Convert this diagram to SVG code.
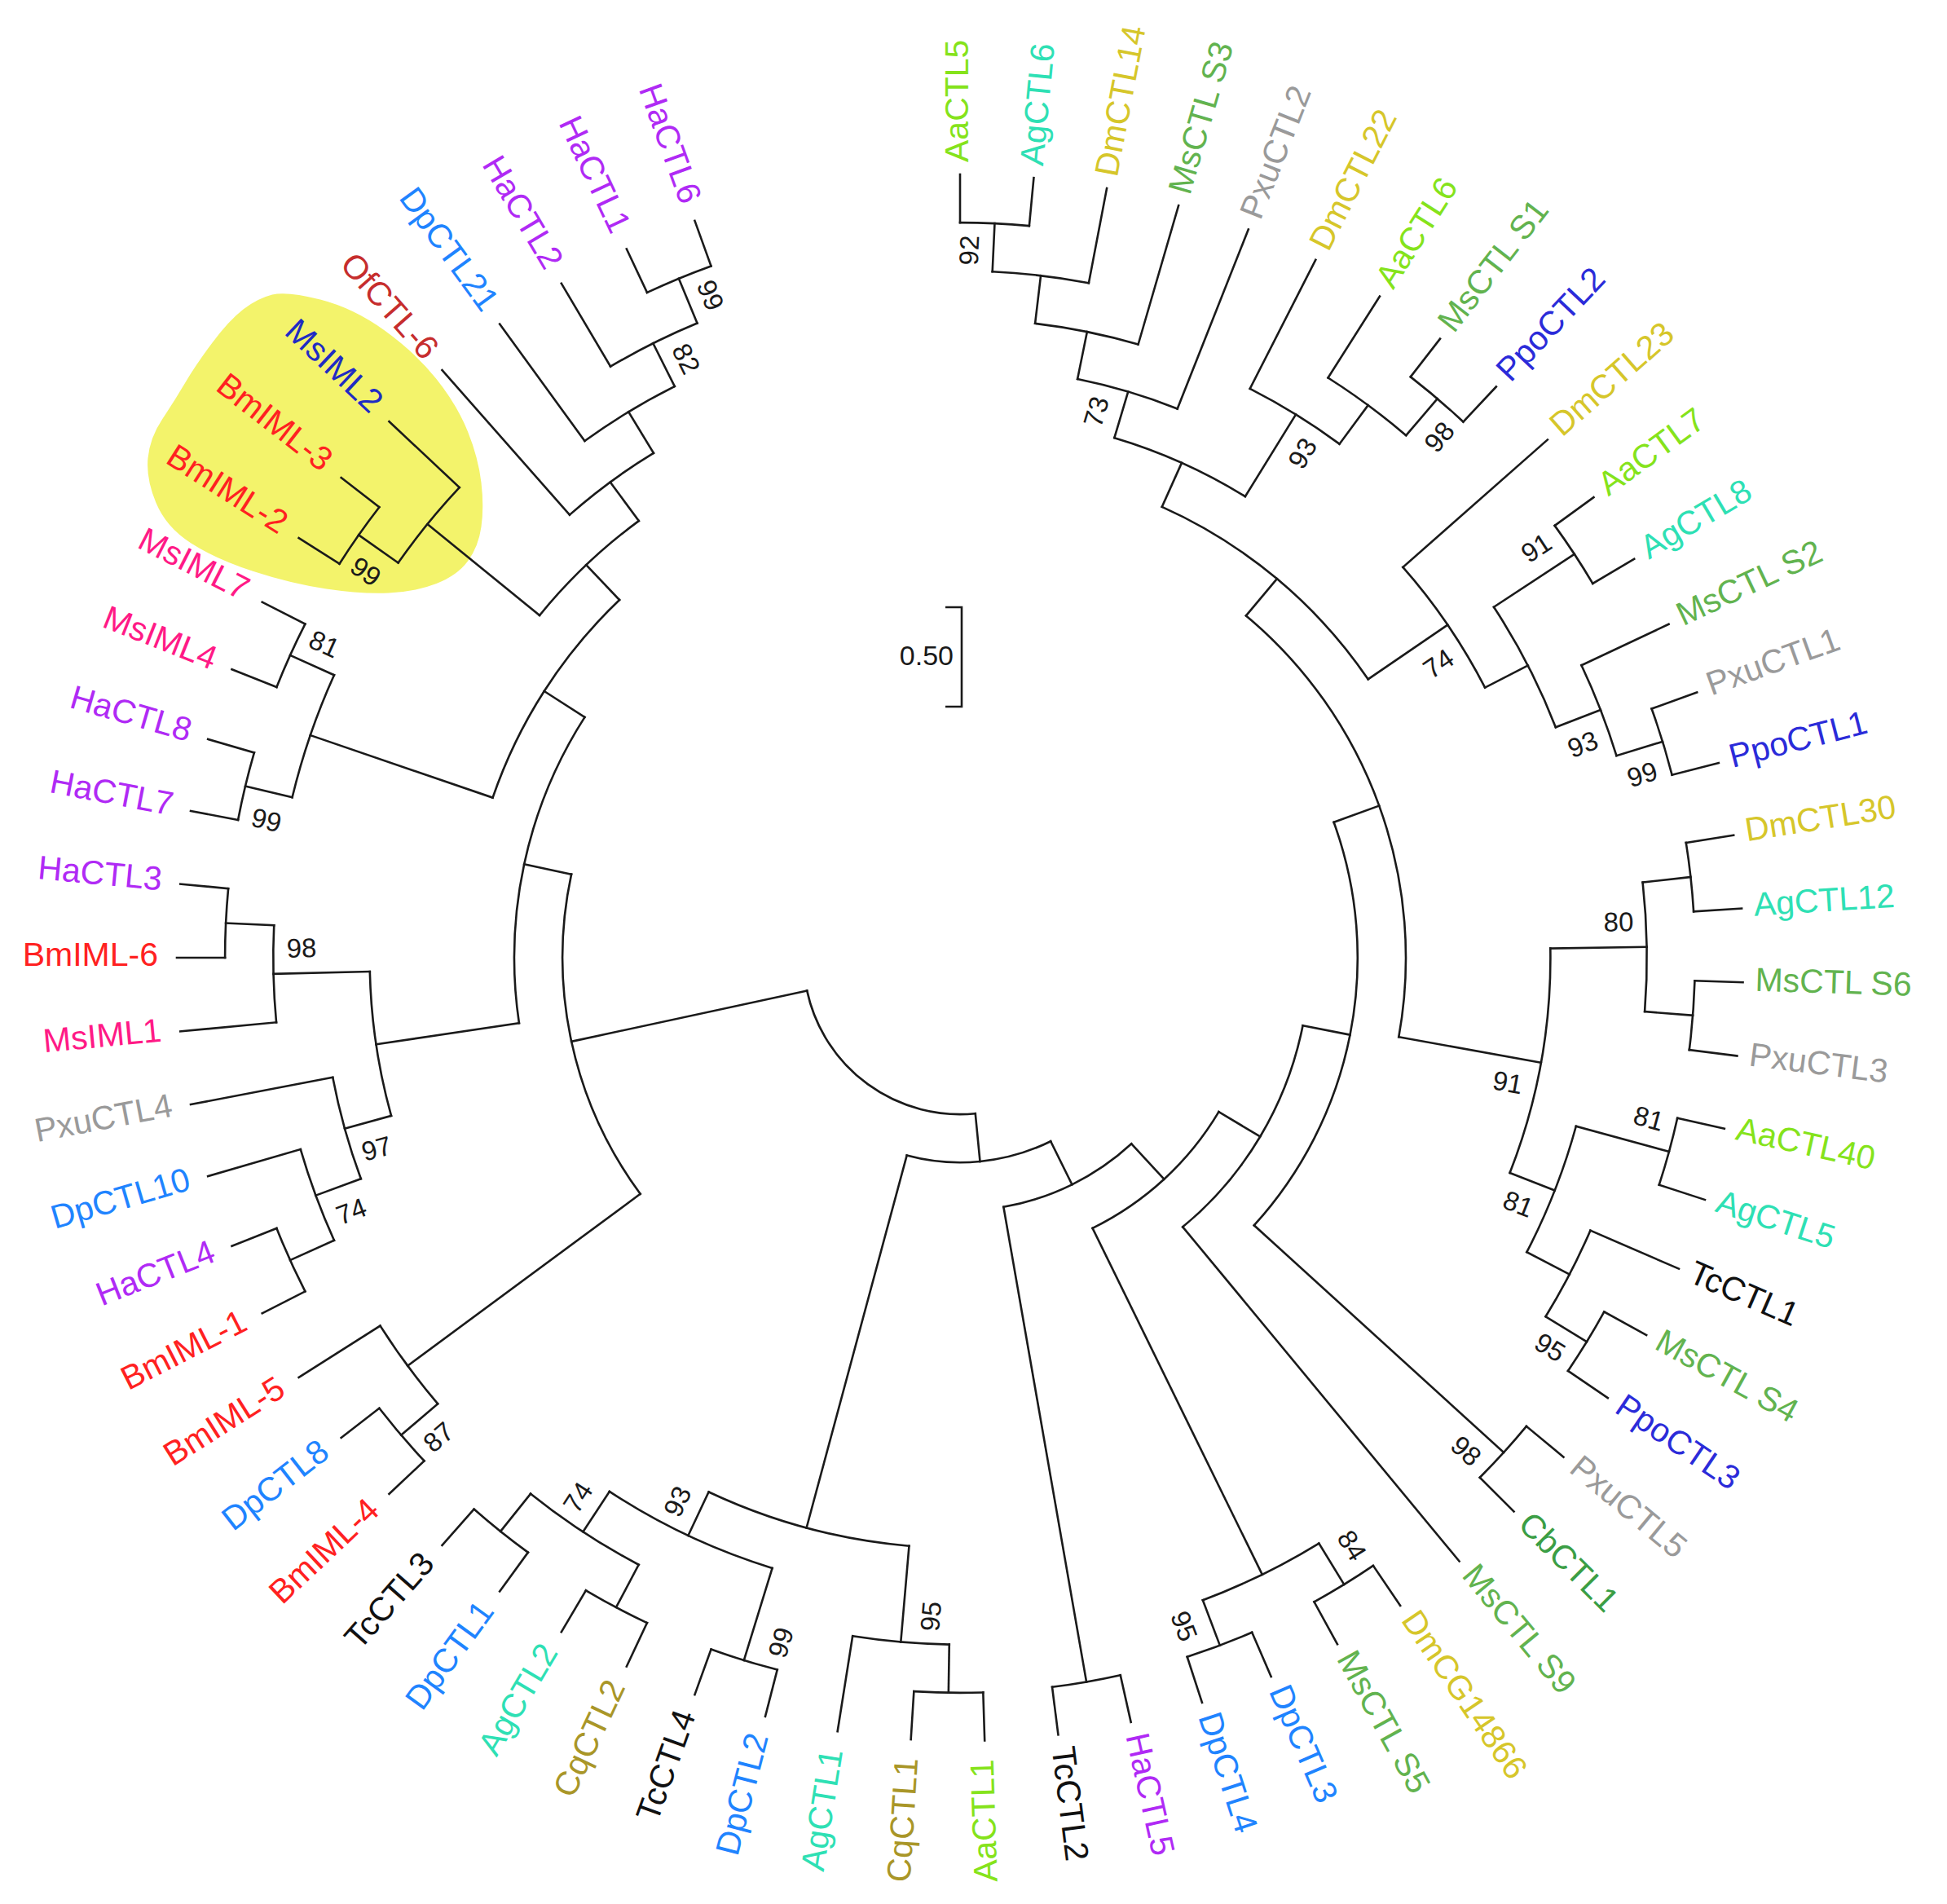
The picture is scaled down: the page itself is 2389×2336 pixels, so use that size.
<svg xmlns="http://www.w3.org/2000/svg" width="2389" height="2336" viewBox="0 0 2389 2336">
<style>
.br{fill:none;stroke:#1a1a1a;stroke-width:2.6;stroke-linecap:square}
.lb{font-family:"Liberation Sans",Arial,sans-serif;font-size:41px}
.lf{text-anchor:end}
.bs{font-family:"Liberation Sans",Arial,sans-serif;font-size:33px;fill:#1a1a1a;text-anchor:middle}
.aa{fill:#85e31b}.ag{fill:#2ee0b4}.dm{fill:#d6c62a}.ms{fill:#62b34f}.px{fill:#9a9a9a}.pp{fill:#2b2bd9}
.dp{fill:#1f84ff}.ha{fill:#b02af5}.bm{fill:#ff2121}.mi{fill:#ff1a86}.nv{fill:#1f2bc4}.of{fill:#c62d2d}
.cq{fill:#a99628}.cb{fill:#3b9e45}.tc{fill:#111}
</style>
<rect width="2389" height="2336" fill="#fff"/>
<path id="highlight" fill="#f3f36b" d="M334 361.5 Q352 357 393 367.5 Q434 378 472 405.5 Q510 433 535.5 465 Q561 497 574 529.5 Q587 562 590.5 592 Q594 622 590.5 646.5 Q587 671 574 688.5 Q561 706 535.5 716 Q510 726 477 727.5 Q444 729 400.5 722.5 Q357 716 311 701 Q265 686 234.5 666.5 Q204 647 191.5 617 Q179 587 181.5 562 Q184 537 199 514.5 Q214 492 227 470 Q240 448 260.5 420.5 Q281 393 298.5 379.5 Q316 366 334 361.5 Z"/>
<g id="connectors" class="br" transform="translate(1178 1175)">
<!-- arcs h1 -->
<circle r="901.9" stroke-dasharray="85 9999" transform="rotate(-90)"/>
<circle r="901.9" stroke-dasharray="85 9999" transform="rotate(-52.2)"/>
<circle r="901.9" stroke-dasharray="85 9999" transform="rotate(-36)"/>
<circle r="901.9" stroke-dasharray="85 9999" transform="rotate(-19.8)"/>
<circle r="901.9" stroke-dasharray="85 9999" transform="rotate(-9)"/>
<circle r="901.9" stroke-dasharray="85 9999" transform="rotate(1.8)"/>
<circle r="901.9" stroke-dasharray="85 9999" transform="rotate(12.6)"/>
<circle r="901.9" stroke-dasharray="85 9999" transform="rotate(28.8)"/>
<circle r="901.9" stroke-dasharray="85 9999" transform="rotate(39.6)"/>
<circle r="901.9" stroke-dasharray="85 9999" transform="rotate(55.8)"/>
<circle r="901.9" stroke-dasharray="85 9999" transform="rotate(66.6)"/>
<circle r="901.9" stroke-dasharray="85 9999" transform="rotate(77.4)"/>
<circle r="901.9" stroke-dasharray="85 9999" transform="rotate(88.2)"/>
<circle r="901.9" stroke-dasharray="85 9999" transform="rotate(104.4)"/>
<circle r="901.9" stroke-dasharray="85 9999" transform="rotate(115.2)"/>
<circle r="901.9" stroke-dasharray="85 9999" transform="rotate(126)"/>
<circle r="901.9" stroke-dasharray="85 9999" transform="rotate(136.8)"/>
<circle r="901.9" stroke-dasharray="85 9999" transform="rotate(153)"/>
<circle r="901.9" stroke-dasharray="85 9999" transform="rotate(180)"/>
<circle r="901.9" stroke-dasharray="85 9999" transform="rotate(190.8)"/>
<circle r="901.9" stroke-dasharray="85 9999" transform="rotate(201.6)"/>
<circle r="901.9" stroke-dasharray="85 9999" transform="rotate(212.4)"/>
<circle r="901.9" stroke-dasharray="85 9999" transform="rotate(244.8)"/>
<!-- arcs h2 -->
<circle r="842.7" stroke-dasharray="119.1 9999" transform="rotate(-87.3)"/>
<circle r="842.7" stroke-dasharray="119.1 9999" transform="rotate(-57.6)"/>
<circle r="842.7" stroke-dasharray="119.1 9999" transform="rotate(-25.2)"/>
<circle r="842.7" stroke-dasharray="158.9 9999" transform="rotate(-6.3)"/>
<circle r="842.7" stroke-dasharray="119.1 9999" transform="rotate(23.4)"/>
<circle r="842.7" stroke-dasharray="158.9 9999" transform="rotate(58.5)"/>
<circle r="842.7" stroke-dasharray="119.1 9999" transform="rotate(90.9)"/>
<circle r="842.7" stroke-dasharray="158.9 9999" transform="rotate(117.9)"/>
<circle r="842.7" stroke-dasharray="119.1 9999" transform="rotate(139.5)"/>
<circle r="842.7" stroke-dasharray="119.1 9999" transform="rotate(155.7)"/>
<circle r="842.7" stroke-dasharray="119.1 9999" transform="rotate(174.6)"/>
<circle r="842.7" stroke-dasharray="158.9 9999" transform="rotate(193.5)"/>
<circle r="842.7" stroke-dasharray="119.1 9999" transform="rotate(215.1)"/>
<circle r="842.7" stroke-dasharray="119.1 9999" transform="rotate(239.4)"/>
<!-- arcs h3 -->
<circle r="783.6" stroke-dasharray="129.2 9999" transform="rotate(-83.25)"/>
<circle r="783.6" stroke-dasharray="129.2 9999" transform="rotate(-63)"/>
<circle r="783.6" stroke-dasharray="166.2 9999" transform="rotate(-33.3)"/>
<circle r="783.6" stroke-dasharray="166.2 9999" transform="rotate(15.3)"/>
<circle r="783.6" stroke-dasharray="221.6 9999" transform="rotate(107.1)"/>
<circle r="783.6" stroke-dasharray="129.2 9999" transform="rotate(159.75)"/>
<circle r="783.6" stroke-dasharray="129.2 9999" transform="rotate(234)"/>
<!-- arcs h4 -->
<circle r="724.4" stroke-dasharray="128 9999" transform="rotate(-78.525)"/>
<circle r="724.4" stroke-dasharray="179.2 9999" transform="rotate(-41.4)"/>
<circle r="724.4" stroke-dasharray="281.6 9999" transform="rotate(-0.9)"/>
<circle r="724.4" stroke-dasharray="256 9999" transform="rotate(94.95)"/>
<circle r="724.4" stroke-dasharray="179.2 9999" transform="rotate(164.475)"/>
<circle r="724.4" stroke-dasharray="128 9999" transform="rotate(228.6)"/>
<!-- arcs h5..h13 -->
<circle r="665.3" stroke-dasharray="176.3 9999" transform="rotate(-73.4625)"/>
<circle r="665.3" stroke-dasharray="168.5 9999" transform="rotate(219.15)"/>
<circle r="606.1" stroke-dasharray="333.8 9999" transform="rotate(-65.869)"/>
<circle r="606.1" stroke-dasharray="291 9999" transform="rotate(198.9)"/>
<circle r="547" stroke-dasharray="575.9 9999" transform="rotate(-50.09)"/>
<circle r="547" stroke-dasharray="392.3 9999" transform="rotate(171.5625)"/>
<circle r="487.8" stroke-dasharray="529.8 9999" transform="rotate(-19.926)"/>
<circle r="487.8" stroke-dasharray="413.4 9999" transform="rotate(143.55)"/>
<circle r="428.7" stroke-dasharray="293.4 9999" transform="rotate(11.187)"/>
<circle r="369.5" stroke-dasharray="213.5 9999" transform="rotate(30.79)"/>
<circle r="310.4" stroke-dasharray="177.4 9999" transform="rotate(47.35)"/>
<circle r="251.2" stroke-dasharray="181.3 9999" transform="rotate(63.72)"/>
<circle r="192.1" stroke-dasharray="279.7 9999" transform="rotate(84.4)"/>
<!-- leaf branches -->
<path d="M901.9 0H961" transform="rotate(-90)"/>
<path d="M901.9 0H961" transform="rotate(-84.6)"/>
<path d="M842.7 0H961" transform="rotate(-79.2)"/>
<path d="M783.6 0H961" transform="rotate(-73.8)"/>
<path d="M724.4 0H961" transform="rotate(-68.4)"/>
<path d="M783.6 0H961" transform="rotate(-63)"/>
<path d="M842.7 0H961" transform="rotate(-57.6)"/>
<path d="M901.9 0H961" transform="rotate(-52.2)"/>
<path d="M901.9 0H961" transform="rotate(-46.8)"/>
<path d="M724.4 0H961" transform="rotate(-41.4)"/>
<path d="M901.9 0H961" transform="rotate(-36)"/>
<path d="M901.9 0H961" transform="rotate(-30.6)"/>
<path d="M842.7 0H961" transform="rotate(-25.2)"/>
<path d="M901.9 0H961" transform="rotate(-19.8)"/>
<path d="M901.9 0H961" transform="rotate(-14.4)"/>
<path d="M901.9 0H961" transform="rotate(-9)"/>
<path d="M901.9 0H961" transform="rotate(-3.6)"/>
<path d="M901.9 0H961" transform="rotate(1.8)"/>
<path d="M901.9 0H961" transform="rotate(7.2)"/>
<path d="M901.9 0H961" transform="rotate(12.6)"/>
<path d="M901.9 0H961" transform="rotate(18)"/>
<path d="M842.7 0H961" transform="rotate(23.4)"/>
<path d="M901.9 0H961" transform="rotate(28.8)"/>
<path d="M901.9 0H961" transform="rotate(34.2)"/>
<path d="M901.9 0H961" transform="rotate(39.6)"/>
<path d="M901.9 0H961" transform="rotate(45)"/>
<path d="M428.7 0H961" transform="rotate(50.4)"/>
<path d="M901.9 0H961" transform="rotate(55.8)"/>
<path d="M901.9 0H961" transform="rotate(61.2)"/>
<path d="M901.9 0H961" transform="rotate(66.6)"/>
<path d="M901.9 0H961" transform="rotate(72)"/>
<path d="M901.9 0H961" transform="rotate(77.4)"/>
<path d="M901.9 0H961" transform="rotate(82.8)"/>
<path d="M901.9 0H961" transform="rotate(88.2)"/>
<path d="M901.9 0H961" transform="rotate(93.6)"/>
<path d="M842.7 0H961" transform="rotate(99)"/>
<path d="M901.9 0H961" transform="rotate(104.4)"/>
<path d="M901.9 0H961" transform="rotate(109.8)"/>
<path d="M901.9 0H961" transform="rotate(115.2)"/>
<path d="M901.9 0H961" transform="rotate(120.6)"/>
<path d="M901.9 0H961" transform="rotate(126)"/>
<path d="M901.9 0H961" transform="rotate(131.4)"/>
<path d="M901.9 0H961" transform="rotate(136.8)"/>
<path d="M901.9 0H961" transform="rotate(142.2)"/>
<path d="M842.7 0H961" transform="rotate(147.6)"/>
<path d="M901.9 0H961" transform="rotate(153)"/>
<path d="M901.9 0H961" transform="rotate(158.4)"/>
<path d="M842.7 0H961" transform="rotate(163.8)"/>
<path d="M783.6 0H961" transform="rotate(169.2)"/>
<path d="M842.7 0H961" transform="rotate(174.6)"/>
<path d="M901.9 0H961" transform="rotate(180)"/>
<path d="M901.9 0H961" transform="rotate(185.4)"/>
<path d="M901.9 0H961" transform="rotate(190.8)"/>
<path d="M901.9 0H961" transform="rotate(196.2)"/>
<path d="M901.9 0H961" transform="rotate(201.6)"/>
<path d="M901.9 0H961" transform="rotate(207)"/>
<path d="M901.9 0H961" transform="rotate(212.4)"/>
<path d="M901.9 0H961" transform="rotate(217.8)"/>
<path d="M842.7 0H961" transform="rotate(223.2)"/>
<path d="M724.4 0H961" transform="rotate(228.6)"/>
<path d="M783.6 0H961" transform="rotate(234)"/>
<path d="M842.7 0H961" transform="rotate(239.4)"/>
<path d="M901.9 0H961" transform="rotate(244.8)"/>
<path d="M901.9 0H961" transform="rotate(250.2)"/>
<!-- internal stems -->
<path d="M842.7 0H901.9" transform="rotate(-87.3)"/>
<path d="M783.6 0H842.7" transform="rotate(-83.25)"/>
<path d="M724.4 0H783.6" transform="rotate(-78.525)"/>
<path d="M665.3 0H724.4" transform="rotate(-73.4625)"/>
<path d="M842.7 0H901.9" transform="rotate(-49.5)"/>
<path d="M783.6 0H842.7" transform="rotate(-53.55)"/>
<path d="M665.3 0H783.6" transform="rotate(-58.275)"/>
<path d="M606.1 0H665.3" transform="rotate(-65.869)"/>
<path d="M783.6 0H901.9" transform="rotate(-33.3)"/>
<path d="M842.7 0H901.9" transform="rotate(-17.1)"/>
<path d="M783.6 0H842.7" transform="rotate(-21.15)"/>
<path d="M724.4 0H783.6" transform="rotate(-27.225)"/>
<path d="M606.1 0H724.4" transform="rotate(-34.3125)"/>
<path d="M547 0H606.1" transform="rotate(-50.09)"/>
<path d="M842.7 0H901.9" transform="rotate(-6.3)"/>
<path d="M842.7 0H901.9" transform="rotate(4.5)"/>
<path d="M724.4 0H842.7" transform="rotate(-0.9)"/>
<path d="M783.6 0H901.9" transform="rotate(15.3)"/>
<path d="M842.7 0H901.9" transform="rotate(31.5)"/>
<path d="M783.6 0H842.7" transform="rotate(27.45)"/>
<path d="M724.4 0H783.6" transform="rotate(21.375)"/>
<path d="M547 0H724.4" transform="rotate(10.2375)"/>
<path d="M487.8 0H547" transform="rotate(-19.926)"/>
<path d="M487.8 0H901.9" transform="rotate(42.3)"/>
<path d="M428.7 0H487.8" transform="rotate(11.187)"/>
<path d="M369.5 0H428.7" transform="rotate(30.79)"/>
<path d="M842.7 0H901.9" transform="rotate(58.5)"/>
<path d="M842.7 0H901.9" transform="rotate(69.3)"/>
<path d="M369.5 0H842.7" transform="rotate(63.9)"/>
<path d="M310.4 0H369.5" transform="rotate(47.35)"/>
<path d="M310.4 0H901.9" transform="rotate(80.1)"/>
<path d="M251.2 0H310.4" transform="rotate(63.72)"/>
<path d="M842.7 0H901.9" transform="rotate(90.9)"/>
<path d="M724.4 0H842.7" transform="rotate(94.95)"/>
<path d="M783.6 0H901.9" transform="rotate(107.1)"/>
<path d="M842.7 0H901.9" transform="rotate(117.9)"/>
<path d="M842.7 0H901.9" transform="rotate(128.7)"/>
<path d="M783.6 0H842.7" transform="rotate(123.3)"/>
<path d="M724.4 0H783.6" transform="rotate(115.2)"/>
<path d="M251.2 0H724.4" transform="rotate(105.075)"/>
<path d="M192.1 0H251.2" transform="rotate(84.4)"/>
<path d="M842.7 0H901.9" transform="rotate(139.5)"/>
<path d="M487.8 0H842.7" transform="rotate(143.55)"/>
<path d="M842.7 0H901.9" transform="rotate(155.7)"/>
<path d="M783.6 0H842.7" transform="rotate(159.75)"/>
<path d="M724.4 0H783.6" transform="rotate(164.475)"/>
<path d="M842.7 0H901.9" transform="rotate(182.7)"/>
<path d="M724.4 0H842.7" transform="rotate(178.65)"/>
<path d="M547 0H724.4" transform="rotate(171.5625)"/>
<path d="M842.7 0H901.9" transform="rotate(193.5)"/>
<path d="M842.7 0H901.9" transform="rotate(204.3)"/>
<path d="M606.1 0H842.7" transform="rotate(198.9)"/>
<path d="M842.7 0H901.9" transform="rotate(215.1)"/>
<path d="M665.3 0H842.7" transform="rotate(219.15)"/>
<path d="M842.7 0H901.9" transform="rotate(247.5)"/>
<path d="M783.6 0H842.7" transform="rotate(243.45)"/>
<path d="M724.4 0H783.6" transform="rotate(238.725)"/>
<path d="M665.3 0H724.4" transform="rotate(233.6625)"/>
<path d="M606.1 0H665.3" transform="rotate(226.406)"/>
<path d="M547 0H606.1" transform="rotate(212.653)"/>
<path d="M487.8 0H547" transform="rotate(192.108)"/>
<path d="M192.1 0H487.8" transform="rotate(167.829)"/>
</g>
<g id="leaves" class="lb" transform="translate(1178 1175)">
<g id="n-AaCTL5"><text class="aa" x="976" dy="10" transform="rotate(-90)">AaCTL5</text></g>
<g id="n-AgCTL6"><text class="ag" x="976" dy="10" transform="rotate(-84.6)">AgCTL6</text></g>
<g id="n-DmCTL14"><text class="dm" x="976" dy="10" transform="rotate(-79.2)">DmCTL14</text></g>
<g id="n-MsCTL-S3"><text class="ms" x="976" dy="10" transform="rotate(-73.8)">MsCTL S3</text></g>
<g id="n-PxuCTL2"><text class="px" x="976" dy="10" transform="rotate(-68.4)">PxuCTL2</text></g>
<g id="n-DmCTL22"><text class="dm" x="976" dy="10" transform="rotate(-63)">DmCTL22</text></g>
<g id="n-AaCTL6"><text class="aa" x="976" dy="10" transform="rotate(-57.6)">AaCTL6</text></g>
<g id="n-MsCTL-S1"><text class="ms" x="976" dy="10" transform="rotate(-52.2)">MsCTL S1</text></g>
<g id="n-PpoCTL2"><text class="pp" x="976" dy="10" transform="rotate(-46.8)">PpoCTL2</text></g>
<g id="n-DmCTL23"><text class="dm" x="976" dy="10" transform="rotate(-41.4)">DmCTL23</text></g>
<g id="n-AaCTL7"><text class="aa" x="976" dy="10" transform="rotate(-36)">AaCTL7</text></g>
<g id="n-AgCTL8"><text class="ag" x="976" dy="10" transform="rotate(-30.6)">AgCTL8</text></g>
<g id="n-MsCTL-S2"><text class="ms" x="976" dy="10" transform="rotate(-25.2)">MsCTL S2</text></g>
<g id="n-PxuCTL1"><text class="px" x="976" dy="10" transform="rotate(-19.8)">PxuCTL1</text></g>
<g id="n-PpoCTL1"><text class="pp" x="976" dy="10" transform="rotate(-14.4)">PpoCTL1</text></g>
<g id="n-DmCTL30"><text class="dm" x="976" dy="10" transform="rotate(-9)">DmCTL30</text></g>
<g id="n-AgCTL12"><text class="ag" x="976" dy="10" transform="rotate(-3.6)">AgCTL12</text></g>
<g id="n-MsCTL-S6"><text class="ms" x="976" dy="10" transform="rotate(1.8)">MsCTL S6</text></g>
<g id="n-PxuCTL3"><text class="px" x="976" dy="10" transform="rotate(7.2)">PxuCTL3</text></g>
<g id="n-AaCTL40"><text class="aa" x="976" dy="10" transform="rotate(12.6)">AaCTL40</text></g>
<g id="n-AgCTL5"><text class="ag" x="976" dy="10" transform="rotate(18)">AgCTL5</text></g>
<g id="n-TcCTL1"><text class="tc" x="976" dy="10" transform="rotate(23.4)">TcCTL1</text></g>
<g id="n-MsCTL-S4"><text class="ms" x="976" dy="10" transform="rotate(28.8)">MsCTL S4</text></g>
<g id="n-PpoCTL3"><text class="pp" x="976" dy="10" transform="rotate(34.2)">PpoCTL3</text></g>
<g id="n-PxuCTL5"><text class="px" x="976" dy="10" transform="rotate(39.6)">PxuCTL5</text></g>
<g id="n-CbCTL1"><text class="cb" x="976" dy="10" transform="rotate(45)">CbCTL1</text></g>
<g id="n-MsCTL-S9"><text class="ms" x="976" dy="10" transform="rotate(50.4)">MsCTL S9</text></g>
<g id="n-DmCG14866"><text class="dm" x="976" dy="10" transform="rotate(55.8)">DmCG14866</text></g>
<g id="n-MsCTL-S5"><text class="ms" x="976" dy="10" transform="rotate(61.2)">MsCTL S5</text></g>
<g id="n-DpCTL3"><text class="dp" x="976" dy="10" transform="rotate(66.6)">DpCTL3</text></g>
<g id="n-DpCTL4"><text class="dp" x="976" dy="10" transform="rotate(72)">DpCTL4</text></g>
<g id="n-HaCTL5"><text class="ha" x="976" dy="10" transform="rotate(77.4)">HaCTL5</text></g>
<g id="n-TcCTL2"><text class="tc" x="976" dy="10" transform="rotate(82.8)">TcCTL2</text></g>
<g id="n-AaCTL1"><text class="aa lf" x="-984" dy="10" transform="rotate(-91.8)">AaCTL1</text></g>
<g id="n-CqCTL1"><text class="cq lf" x="-984" dy="10" transform="rotate(-86.4)">CqCTL1</text></g>
<g id="n-AgCTL1"><text class="ag lf" x="-984" dy="10" transform="rotate(-81)">AgCTL1</text></g>
<g id="n-DpCTL2"><text class="dp lf" x="-984" dy="10" transform="rotate(-75.6)">DpCTL2</text></g>
<g id="n-TcCTL4"><text class="tc lf" x="-984" dy="10" transform="rotate(-70.2)">TcCTL4</text></g>
<g id="n-CqCTL2"><text class="cq lf" x="-984" dy="10" transform="rotate(-64.8)">CqCTL2</text></g>
<g id="n-AgCTL2"><text class="ag lf" x="-984" dy="10" transform="rotate(-59.4)">AgCTL2</text></g>
<g id="n-DpCTL1"><text class="dp lf" x="-984" dy="10" transform="rotate(-54)">DpCTL1</text></g>
<g id="n-TcCTL3"><text class="tc lf" x="-984" dy="10" transform="rotate(-48.6)">TcCTL3</text></g>
<g id="n-BmIML-4"><text class="bm lf" x="-984" dy="10" transform="rotate(-43.2)">BmIML-4</text></g>
<g id="n-DpCTL8"><text class="dp lf" x="-984" dy="10" transform="rotate(-37.8)">DpCTL8</text></g>
<g id="n-BmIML-5"><text class="bm lf" x="-984" dy="10" transform="rotate(-32.4)">BmIML-5</text></g>
<g id="n-BmIML-1"><text class="bm lf" x="-984" dy="10" transform="rotate(-27)">BmIML-1</text></g>
<g id="n-HaCTL4"><text class="ha lf" x="-984" dy="10" transform="rotate(-21.6)">HaCTL4</text></g>
<g id="n-DpCTL10"><text class="dp lf" x="-984" dy="10" transform="rotate(-16.2)">DpCTL10</text></g>
<g id="n-PxuCTL4"><text class="px lf" x="-984" dy="10" transform="rotate(-10.8)">PxuCTL4</text></g>
<g id="n-MsIML1"><text class="mi lf" x="-984" dy="10" transform="rotate(-5.4)">MsIML1</text></g>
<g id="n-BmIML-6"><text class="bm lf" x="-984" dy="10">BmIML-6</text></g>
<g id="n-HaCTL3"><text class="ha lf" x="-984" dy="10" transform="rotate(5.4)">HaCTL3</text></g>
<g id="n-HaCTL7"><text class="ha lf" x="-984" dy="10" transform="rotate(10.8)">HaCTL7</text></g>
<g id="n-HaCTL8"><text class="ha lf" x="-984" dy="10" transform="rotate(16.2)">HaCTL8</text></g>
<g id="n-MsIML4"><text class="mi lf" x="-984" dy="10" transform="rotate(21.6)">MsIML4</text></g>
<g id="n-MsIML7"><text class="mi lf" x="-984" dy="10" transform="rotate(27)">MsIML7</text></g>
<g id="n-BmIML-2"><text class="bm lf" x="-984" dy="10" transform="rotate(32.4)">BmIML-2</text></g>
<g id="n-BmIML-3"><text class="bm lf" x="-984" dy="10" transform="rotate(37.8)">BmIML-3</text></g>
<g id="n-MsIML2"><text class="nv lf" x="-984" dy="10" transform="rotate(43.2)">MsIML2</text></g>
<g id="n-OfCTL-6"><text class="of lf" x="-984" dy="10" transform="rotate(48.6)">OfCTL-6</text></g>
<g id="n-DpCTL21"><text class="dp lf" x="-984" dy="10" transform="rotate(54)">DpCTL21</text></g>
<g id="n-HaCTL2"><text class="ha lf" x="-984" dy="10" transform="rotate(59.4)">HaCTL2</text></g>
<g id="n-HaCTL1"><text class="ha lf" x="-984" dy="10" transform="rotate(64.8)">HaCTL1</text></g>
<g id="n-HaCTL6"><text class="ha lf" x="-984" dy="10" transform="rotate(70.2)">HaCTL6</text></g>
</g>
<g id="bootstrap" class="bs">
<text x="1189" y="307" dy=".35em" transform="rotate(-87.3 1189 307)">92</text>
<text x="1345" y="505" dy=".35em" transform="rotate(-73.5 1345 505)">73</text>
<text x="1598" y="556" dy=".35em" transform="rotate(-58.3 1598 556)">93</text>
<text x="1766" y="536" dy=".35em" transform="rotate(-49.5 1766 536)">98</text>
<text x="1885" y="672" dy=".35em" transform="rotate(-33.3 1885 672)">91</text>
<text x="1765" y="814" dy=".35em" transform="rotate(-34.3 1765 814)">74</text>
<text x="1942" y="913" dy=".35em" transform="rotate(-21.2 1942 913)">93</text>
<text x="2015" y="950" dy=".35em" transform="rotate(-17.1 2015 950)">99</text>
<text x="1986" y="1131" dy=".35em" transform="rotate(-0.9 1986 1131)">80</text>
<text x="1850" y="1328" dy=".35em" transform="rotate(10.2 1850 1328)">91</text>
<text x="2023" y="1372" dy=".35em" transform="rotate(15.3 2023 1372)">81</text>
<text x="1863" y="1477" dy=".35em" transform="rotate(21.4 1863 1477)">81</text>
<text x="1902" y="1653" dy=".35em" transform="rotate(31.5 1902 1653)">95</text>
<text x="1799" y="1780" dy=".35em" transform="rotate(42.3 1799 1780)">98</text>
<text x="1659" y="1896" dy=".35em" transform="rotate(58.5 1659 1896)">84</text>
<text x="1453" y="1995" dy=".35em" transform="rotate(69.3 1453 1995)">95</text>
<text x="1142" y="1983" dy=".35em" transform="rotate(-85 1142 1983)">95</text>
<text x="958" y="2015" dy=".35em" transform="rotate(-72.9 958 2015)">99</text>
<text x="831" y="1842" dy=".35em" transform="rotate(-64.8 831 1842)">93</text>
<text x="709" y="1837" dy=".35em" transform="rotate(-56.7 709 1837)">74</text>
<text x="538" y="1763" dy=".35em" transform="rotate(-40.5 538 1763)">87</text>
<text x="431" y="1486" dy=".35em" transform="rotate(-20.3 431 1486)">74</text>
<text x="462" y="1409" dy=".35em" transform="rotate(-15.5 462 1409)">97</text>
<text x="370" y="1163" dy=".35em" transform="rotate(-1.4 370 1163)">98</text>
<text x="327" y="1006" dy=".35em" transform="rotate(13.5 327 1006)">99</text>
<text x="398" y="790" dy=".35em" transform="rotate(24.3 398 790)">81</text>
<text x="449" y="701" dy=".35em" transform="rotate(35.1 449 701)">99</text>
<text x="842" y="440" dy=".35em" transform="rotate(63.5 842 440)">82</text>
<text x="872" y="362" dy=".35em" transform="rotate(67.5 872 362)">99</text>
</g>
<g id="scalebar">
<path d="M1160 745H1180V867H1160" fill="none" stroke="#1a1a1a" stroke-width="2.6"/>
<text x="1170" y="816" font-family="Liberation Sans, Arial, sans-serif" font-size="34" fill="#1a1a1a" text-anchor="end">0.50</text>
</g>
</svg>
